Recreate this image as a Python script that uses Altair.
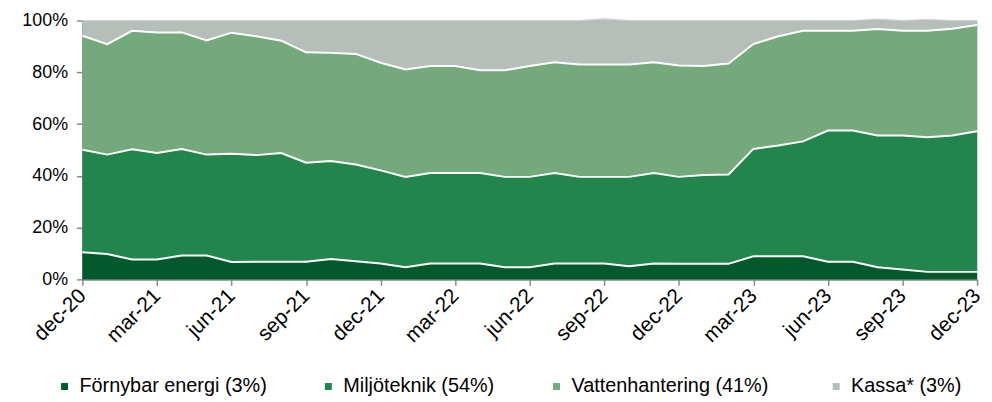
import altair as alt
import numpy as np
import pandas as pd

months = ["dec-20", "jan-21", "feb-21", "mar-21", "apr-21", "maj-21", "jun-21", "jul-21",
          "aug-21", "sep-21", "okt-21", "nov-21", "dec-21", "jan-22", "feb-22", "mar-22",
          "apr-22", "maj-22", "jun-22", "jul-22", "aug-22", "sep-22", "okt-22", "nov-22",
          "dec-22", "jan-23", "feb-23", "mar-23", "apr-23", "maj-23", "jun-23", "jul-23",
          "aug-23", "sep-23", "okt-23", "nov-23", "dec-23"]

tick_labels = ["dec-20", "mar-21", "jun-21", "sep-21", "dec-21", "mar-22", "jun-22",
               "sep-22", "dec-22", "mar-23", "jun-23", "sep-23", "dec-23"]

series = ["Förnybar energi (3%)", "Miljöteknik (54%)", "Vattenhantering  (41%)", "Kassa* (3%)"]
colors = ["#03582C", "#21854C", "#74A97C", "#B5BEB8"]

fornybar = [10.5, 9.8, 7.7, 7.7, 9.2, 9.2, 6.7, 6.8, 6.8, 6.8, 7.9, 7.0, 6.1, 4.7, 6.1, 6.1,
            6.1, 4.7, 4.7, 6.1, 6.1, 6.1, 5.1, 6.1, 6.0, 6.0, 6.0, 8.9, 8.9, 8.9, 6.8, 6.8,
            4.7, 3.8, 2.9, 2.9, 2.9]
miljo = [39.6, 38.4, 42.6, 41.1, 41.2, 39.0, 41.8, 41.2, 42.0, 38.3, 37.8, 37.4, 36.0, 34.9,
         35.0, 35.0, 35.0, 34.9, 34.9, 35.0, 33.5, 33.5, 34.5, 35.0, 33.6, 34.3, 34.5, 41.5,
         42.8, 44.4, 50.7, 50.7, 50.9, 51.8, 52.0, 52.7, 54.3]
vatten = [44.0, 42.7, 45.7, 46.6, 45.0, 44.1, 46.8, 45.9, 43.4, 42.6, 41.8, 42.7, 41.6, 41.5,
          41.3, 41.3, 39.7, 41.2, 42.8, 42.8, 43.4, 43.4, 43.4, 42.8, 43.0, 42.1, 42.9, 40.5,
          42.2, 42.7, 38.5, 38.5, 41.1, 40.4, 41.1, 41.2, 41.1]
kassa = [5.9, 9.1, 4.0, 4.6, 4.6, 7.7, 4.7, 6.1, 7.8, 12.3, 12.5, 12.9, 16.3, 18.9, 17.6, 17.6,
         19.2, 19.2, 17.6, 16.1, 17.0, 17.6, 17.0, 16.1, 17.4, 17.6, 16.6, 9.1, 6.1, 4.0,
         4.0, 4.0, 3.8, 4.0, 4.4, 3.2, 1.7]

vals = np.array([fornybar, miljo, vatten, kassa])
cum = np.cumsum(vals, axis=0)

rows = []
for s_i, s in enumerate(series):
    for m_i, m in enumerate(months):
        rows.append({"month": m, "series": s, "order": s_i,
                     "value": float(vals[s_i, m_i]), "cum": float(cum[s_i, m_i])})
df = pd.DataFrame(rows)

FONT = "Liberation Sans"
AX = "#898989"

x_enc = alt.X("month:O", sort=months, scale=alt.Scale(type="point", padding=0),
              axis=alt.Axis(values=tick_labels, labelAngle=-45, labelAlign="right",
                            labelBaseline="middle", labelFontSize=21, labelFont=FONT,
                            labelColor="#000000", labelPadding=7, labelOffset=0,
                            tickSize=6, tickWidth=1.5,
                            tickColor=AX, domainColor=AX, domainWidth=1.5, title=None,
                            grid=False, labelOverlap=False, labelBound=False))
y_scale = alt.Scale(domain=[0, 100], nice=False)
y_axis = alt.Axis(values=[0, 20, 40, 60, 80, 100], labelExpr="datum.value + '%'",
                  labelFontSize=18, labelFont=FONT, labelColor="#000000", labelPadding=9,
                  tickSize=6, tickWidth=1.5, tickColor=AX, domainColor=AX, domainWidth=1.5,
                  title=None, grid=False)

area = alt.Chart(df).mark_area(interpolate="linear").encode(
    x=x_enc,
    y=alt.Y("value:Q", stack="zero", scale=y_scale, axis=y_axis),
    color=alt.Color("series:N", sort=series,
                    scale=alt.Scale(domain=series, range=colors),
                    legend=alt.Legend(orient="none", legendX=-28, legendY=359,
                                      direction="horizontal", title=None,
                                      symbolType="square", symbolSize=49,
                                      symbolStrokeWidth=0, labelFontSize=20,
                                      labelFont=FONT, labelColor="#000000",
                                      labelOffset=5, columnPadding=52, padding=0,
                                      labelLimit=400)),
    order=alt.Order("order:Q", sort="ascending"),
)

lines = alt.Chart(df[df["order"] < 3]).mark_line(color="white", strokeWidth=2,
                                                 interpolate="linear").encode(
    x=alt.X("month:O", sort=months),
    y=alt.Y("cum:Q"),
    detail="series:N",
)

top = alt.Chart(df[df["order"] == 3]).mark_line(color="#cfcfcf", strokeWidth=1.2,
                                               interpolate="linear").encode(
    x=alt.X("month:O", sort=months),
    y=alt.Y("cum:Q"),
)

chart = alt.layer(area, lines, top).properties(
    width=902, height=261,
    autosize=alt.AutoSizeParams(type="none"),
    padding={"left": 75, "top": 11, "right": 7, "bottom": 121},
).configure_view(stroke=None).configure(background="white")

chart.save("out.html", embed_options={"renderer": "svg", "actions": False})
